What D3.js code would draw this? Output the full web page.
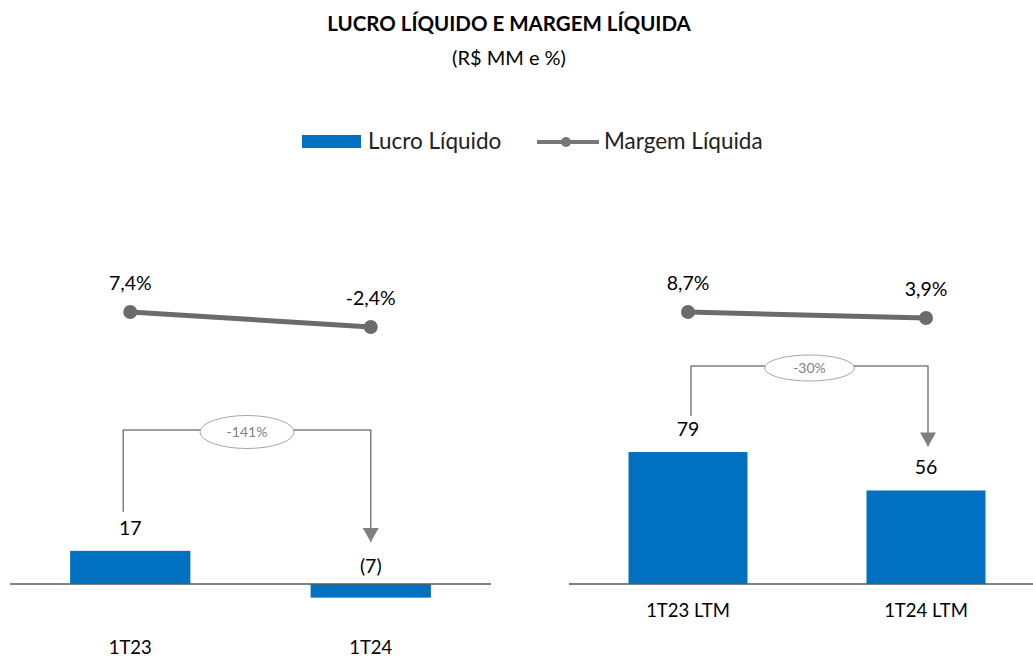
<!DOCTYPE html>
<html>
<head>
<meta charset="utf-8">
<script src="https://cdn.jsdelivr.net/npm/d3@7"></script>
<style>
  body { margin: 0; background: #fff; }
  svg { display: block; font-family: Lato, "Open Sans", sans-serif; }
</style>
</head>
<body>
<div id="chart"></div>
<script>
// Data
var categoriesTri = ["1T23", "1T24"],
    lucroTri = [17, -7],
    margemTri = [7.4, -2.4],
    variacaoTri = "-141%";

var categoriesLtm = ["1T23 LTM", "1T24 LTM"],
    lucroLtm = [79, 56],
    margemLtm = [8.7, 3.9],
    variacaoLtm = "-30%";

var width = 1033, height = 659;
var barColor = "#0070c0", lineColor = "#6b6b6b", arrowColor = "#7f7f7f";

var svg = d3.select("#chart").append("svg")
    .attr("width", width)
    .attr("height", height);

var defs = svg.append("defs");
defs.append("marker")
    .attr("id", "arrow")
    .attr("viewBox", "0 0 14 16")
    .attr("refX", 14).attr("refY", 8)
    .attr("markerWidth", 14).attr("markerHeight", 16)
    .attr("markerUnits", "userSpaceOnUse")
    .attr("orient", "auto")
  .append("path")
    .attr("d", "M0,0 L14,8 L0,16 Z")
    .attr("fill", arrowColor);

// Title
svg.append("text")
    .attr("x", 509).attr("y", 31)
    .attr("text-anchor", "middle")
    .attr("font-weight", "bold")
    .attr("font-size", 20.5)
    .text("LUCRO LÍQUIDO E MARGEM LÍQUIDA");

svg.append("text")
    .attr("x", 509).attr("y", 65)
    .attr("text-anchor", "middle")
    .attr("font-size", 20)
    .text("(R$ MM e %)");

// Legend
var legend = svg.append("g");
legend.append("rect")
    .attr("x", 302).attr("y", 135).attr("width", 59).attr("height", 13)
    .attr("fill", barColor);
legend.append("text")
    .attr("x", 368).attr("y", 149)
    .attr("font-size", 22.5)
    .attr("fill", "#222")
    .text("Lucro Líquido");
legend.append("line")
    .attr("x1", 537).attr("x2", 599).attr("y1", 142).attr("y2", 142)
    .attr("stroke", "#767676").attr("stroke-width", 4);
legend.append("circle")
    .attr("cx", 566).attr("cy", 142).attr("r", 5)
    .attr("fill", "#767676");
legend.append("text")
    .attr("x", 604).attr("y", 149)
    .attr("font-size", 22.5)
    .attr("fill", "#222")
    .text("Margem Líquida");

// One panel = bars + line + variation bracket
function drawPanel(opt) {
    var g = svg.append("g");

    var x = d3.scaleBand()
        .domain(opt.categories)
        .range(opt.xRange)
        .paddingInner(0.5)
        .paddingOuter(0.25);

    var yBar = d3.scaleLinear().domain(opt.barDomain).range(opt.barRange);
    var yLine = d3.scaleLinear().domain(opt.lineDomain).range(opt.lineRange);

    var rows = opt.categories.map(function(c, i) {
        return { cat: c, lucro: opt.lucro[i], margem: opt.margem[i] };
    });

    // bars
    g.selectAll("rect.bar")
        .data(rows).enter()
        .append("rect")
            .attr("class", "bar")
            .attr("x", function(d) { return x(d.cat); })
            .attr("width", x.bandwidth())
            .attr("y", function(d) { return Math.min(yBar(d.lucro), yBar(0)); })
            .attr("height", function(d) { return Math.abs(yBar(d.lucro) - yBar(0)); })
            .attr("fill", barColor);

    // baseline
    g.append("line")
        .attr("x1", opt.xRange[0]).attr("x2", Math.min(opt.xRange[1], width))
        .attr("y1", yBar(0)).attr("y2", yBar(0))
        .attr("stroke", "#595959").attr("stroke-width", 1.5);

    // bar labels
    function labelY(d) {
        return d.lucro >= 0 ? yBar(d.lucro) - 16 : yBar(0) - 11;
    }
    g.selectAll("text.val")
        .data(rows).enter()
        .append("text")
            .attr("class", "val")
            .attr("x", function(d) { return x(d.cat) + x.bandwidth() / 2; })
            .attr("y", labelY)
            .attr("text-anchor", "middle")
            .attr("font-size", 19.5)
            .text(function(d) { return d.lucro < 0 ? "(" + Math.abs(d.lucro) + ")" : d.lucro; });

    // category labels
    g.selectAll("text.cat")
        .data(rows).enter()
        .append("text")
            .attr("class", "cat")
            .attr("x", function(d) { return x(d.cat) + x.bandwidth() / 2; })
            .attr("y", opt.catY)
            .attr("text-anchor", "middle")
            .attr("font-size", 18.5)
            .text(function(d) { return d.cat; });

    // margin line
    var line = d3.line()
        .x(function(d) { return x(d.cat) + x.bandwidth() / 2; })
        .y(function(d) { return yLine(d.margem); });
    g.append("path")
        .datum(rows)
        .attr("d", line)
        .attr("fill", "none")
        .attr("stroke", lineColor)
        .attr("stroke-width", 5);
    g.selectAll("circle.pt")
        .data(rows).enter()
        .append("circle")
            .attr("class", "pt")
            .attr("cx", function(d) { return x(d.cat) + x.bandwidth() / 2; })
            .attr("cy", function(d) { return yLine(d.margem); })
            .attr("r", 7)
            .attr("fill", lineColor);
    g.selectAll("text.pct")
        .data(rows).enter()
        .append("text")
            .attr("class", "pct")
            .attr("x", function(d) { return x(d.cat) + x.bandwidth() / 2; })
            .attr("y", function(d) { return yLine(d.margem) - 22; })
            .attr("text-anchor", "middle")
            .attr("font-size", 19.5)
            .text(function(d) { return d.margem.toFixed(1).replace(".", ",") + "%"; });

    // variation bracket
    var x1 = x(rows[0].cat) + x.bandwidth() / 2 + opt.bracketDx,
        x2 = x(rows[1].cat) + x.bandwidth() / 2 + opt.bracketDx2,
        yTop = opt.bracketTop,
        yStart = labelY(rows[0]) - opt.startGap,
        yEnd = labelY(rows[1]) - opt.endGap;
    g.append("path")
        .attr("d", "M" + x1 + "," + yStart + "V" + yTop + "H" + x2 + "V" + yEnd)
        .attr("fill", "none")
        .attr("stroke", arrowColor)
        .attr("stroke-width", 1.5)
        .attr("marker-end", "url(#arrow)");
    var cx = (x1 + x2) / 2;
    g.append("ellipse")
        .attr("cx", cx).attr("cy", yTop + opt.ellipseDy)
        .attr("rx", opt.rx).attr("ry", opt.ry)
        .attr("fill", "#fff")
        .attr("stroke", "#a6a6a6").attr("stroke-width", 1);
    g.append("text")
        .attr("x", cx).attr("y", yTop + opt.ellipseDy + 5)
        .attr("text-anchor", "middle")
        .attr("font-size", 14)
        .attr("fill", "#7f7f7f")
        .text(opt.variacao);
}

drawPanel({
    categories: categoriesTri, lucro: lucroTri, margem: margemTri, variacao: variacaoTri,
    xRange: [10, 491],
    barDomain: [-10, 30], barRange: [603.5, 525.5],
    lineDomain: [-10, 20], lineRange: [338.6, 292.7],
    catY: 654,
    bracketDx: -7, bracketDx2: 0, bracketTop: 430,
    startGap: 23, endGap: 31,
    ellipseDy: 2, rx: 47, ry: 16.5
});

drawPanel({
    categories: categoriesLtm, lucro: lucroLtm, margem: margemLtm, variacao: variacaoLtm,
    xRange: [569, 1045],
    barDomain: [0, 100], barRange: [584, 417],
    lineDomain: [-10, 20], lineRange: [335.4, 297.9],
    catY: 617,
    bracketDx: 3, bracketDx2: 2, bracketTop: 366,
    startGap: 20, endGap: 28,
    ellipseDy: 2, rx: 45, ry: 13
});
</script>
</body>
</html>
